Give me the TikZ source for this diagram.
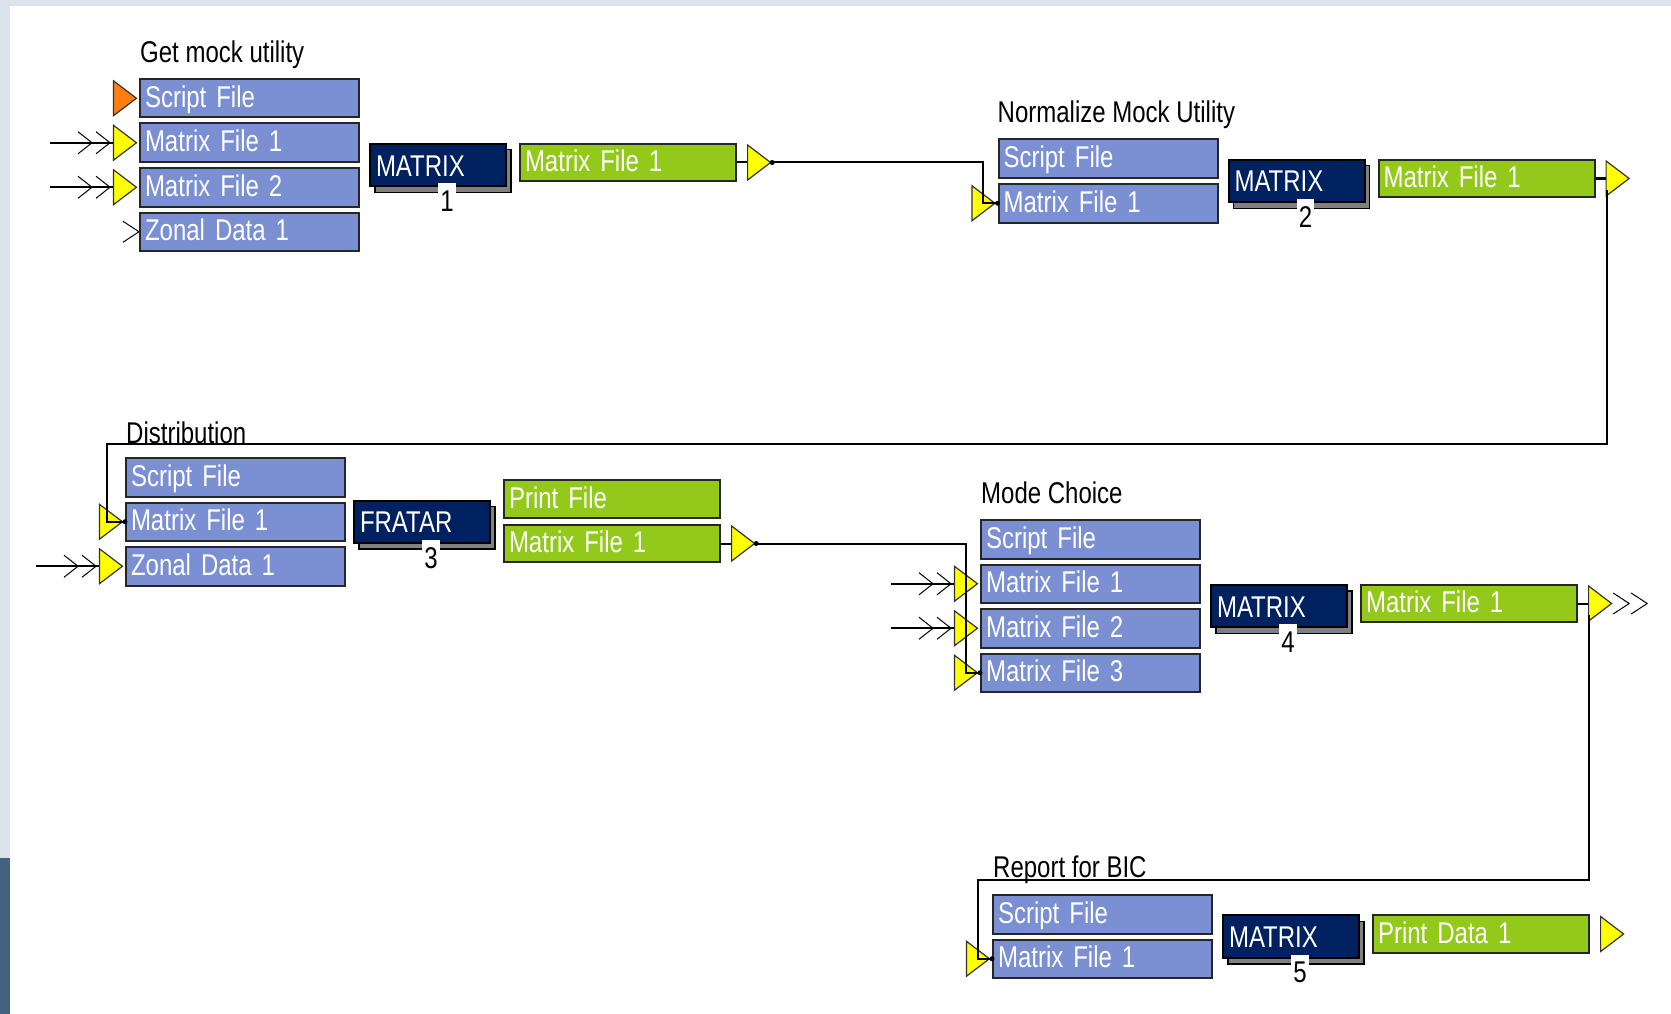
\documentclass[tikz,border=0pt]{standalone}
\usepackage{fontspec}
\setmainfont{Liberation Sans}[FakeStretch=0.8]
\usepackage{tikz}
\usetikzlibrary{positioning,calc,shapes.geometric,shadows,arrows.meta,decorations.markings}
\definecolor{inblue}{RGB}{123,143,211}
\definecolor{outgreen}{RGB}{147,201,27}
\definecolor{prognavy}{RGB}{0,33,96}
\definecolor{shadowgray}{RGB}{128,128,128}
\definecolor{portyellow}{RGB}{255,255,0}
\definecolor{portorange}{RGB}{255,128,16}
\definecolor{winframe}{RGB}{220,227,236}
\definecolor{deskphoto}{RGB}{68,98,128}
\tikzset{
	every node/.style={font=\fontsize{30}{34}\selectfont},
	file/.style={draw=black!85,line width=2pt,text=white,anchor=north west,
		align=left,inner xsep=5pt,inner ysep=0pt,text height=22pt,text depth=4pt},
	infile/.style={file,fill=inblue,text width=209pt,minimum height=38.5pt},
	outfile/.style={file,fill=outgreen,text width=206pt,minimum height=37.5pt},
	prog/.style={draw=black,line width=2pt,fill=prognavy,text=white,align=left,
		text width=124pt,inner xsep=6pt,inner ysep=0pt,minimum height=42.5pt,
		text height=22pt,text depth=0pt,
		general shadow={fill=shadowgray,draw=black,line width=1.5pt,
			shadow xshift=5pt,shadow yshift=-6pt}},
	prognum/.style={fill=white,inner xsep=2pt,inner ysep=0pt,
		text height=28pt,text depth=0pt,anchor=north},
	grouptitle/.style={anchor=base west,inner sep=0pt},
	port/.style={isosceles triangle,isosceles triangle stretches,shape border rotate=0,
		minimum width=35pt,minimum height=23pt,inner sep=0pt,
		draw=black!80,line width=1.2pt,fill=portyellow},
	wire/.style={line width=2pt},
	chev/.style={line width=1pt},
	dblin/.style={wire,postaction={decorate},decoration={markings,
		mark=at position -20pt with {\arrow{Straight Barb[length=14pt,width=22pt,line width=1pt]}},
		mark=at position -2pt with {\arrow{Straight Barb[length=14pt,width=22pt,line width=1pt]}}}},
	chevron/.pic={\draw[chev] (0,-10.5) -- (16,0) -- (0,10.5);}
}

\begin{document}
\begin{tikzpicture}[x=1pt,y=-1pt]
	\useasboundingbox (0,0) rectangle (1671,1014);
	\fill[winframe] (0,0) rectangle (1671,1014);
	\fill[white] (10,6) rectangle (1671,1014);
	\fill[deskphoto] (0,858) rectangle (10,1014);
	% Get mock utility
	\node[infile] (gmu-in1) at (139,78) {Script File};
	\node[infile,below=4pt of gmu-in1] (gmu-in2) {Matrix File 1};
	\node[infile,below=4pt of gmu-in2] (gmu-in3) {Matrix File 2};
	\node[infile,below=4pt of gmu-in3] (gmu-in4) {Zonal Data 1};
	\node[grouptitle] (gmu-title) at ([xshift=1pt,yshift=15.5pt]gmu-in1.north west) {Get mock utility};
	\node[prog,anchor=west] (gmu-prog) at ($(gmu-in1.east)!.5!(gmu-in4.east)+(9,0)$) {MATRIX};
	\node[prognum] (gmu-num) at ([xshift=9pt,yshift=4pt]gmu-prog.south) {1};
	\node[outfile,right=12pt of gmu-prog.north east,anchor=north west] (gmu-out1) {Matrix File 1};
	\node[port,fill=portorange,left=1pt of gmu-in1] (gmu-in1-port) {};
	\node[port,left=1pt of gmu-in2] (gmu-in2-port) {};
	\node[port,left=1pt of gmu-in3] (gmu-in3-port) {};
	\node[port,right=10pt of gmu-out1] (gmu-out1-port) {};
	\pic at ([xshift=-16pt]gmu-in4.west) {chevron};
	% Normalize Mock Utility
	\node[infile] (nmu-in1) at (997.5,138.5) {Script File};
	\node[infile,below=4pt of nmu-in1] (nmu-in2) {Matrix File 1};
	\node[grouptitle] (nmu-title) at ([yshift=16pt]nmu-in1.north west) {Normalize Mock Utility};
	\node[prog,anchor=west] (nmu-prog) at ($(nmu-in1.east)!.5!(nmu-in2.east)+(9,0)$) {MATRIX};
	\node[prognum] (nmu-num) at ([xshift=9pt,yshift=4pt]nmu-prog.south) {2};
	\node[outfile,right=12pt of nmu-prog.north east,anchor=north west] (nmu-out1) {Matrix File 1};
	\node[port,left=1pt of nmu-in2] (nmu-in2-port) {};
	\node[port,right=10pt of nmu-out1] (nmu-out1-port) {};
	% Distribution
	\node[infile] (dst-in1) at (125,457) {Script File};
	\node[infile,below=4pt of dst-in1] (dst-in2) {Matrix File 1};
	\node[infile,below=4pt of dst-in2] (dst-in3) {Zonal Data 1};
	\node[grouptitle] (dst-title) at ([xshift=1pt,yshift=14pt]dst-in1.north west) {Distribution};
	\node[prog,anchor=west] (dst-prog) at ($(dst-in1.east)!.5!(dst-in3.east)+(7,0)$) {FRATAR};
	\node[prognum] (dst-num) at ([xshift=9pt,yshift=4pt]dst-prog.south) {3};
	\node[outfile,above right=3pt and 12pt of dst-prog.east] (dst-out1) {Print File};
	\node[outfile,below=5pt of dst-out1] (dst-out2) {Matrix File 1};
	\node[port,left=1pt of dst-in2] (dst-in2-port) {};
	\node[port,left=1pt of dst-in3] (dst-in3-port) {};
	\node[port,right=10pt of dst-out2] (dst-out2-port) {};
	% Mode Choice
	\node[infile] (mch-in1) at (980,519) {Script File};
	\node[infile,below=4pt of mch-in1] (mch-in2) {Matrix File 1};
	\node[infile,below=4pt of mch-in2] (mch-in3) {Matrix File 2};
	\node[infile,below=4pt of mch-in3] (mch-in4) {Matrix File 3};
	\node[grouptitle] (mch-title) at ([xshift=1pt,yshift=16pt]mch-in1.north west) {Mode Choice};
	\node[prog,anchor=west] (mch-prog) at ($(mch-in1.east)!.5!(mch-in4.east)+(9,0)$) {MATRIX};
	\node[prognum] (mch-num) at ([xshift=9pt,yshift=4pt]mch-prog.south) {4};
	\node[outfile,right=12pt of mch-prog.north east,anchor=north west] (mch-out1) {Matrix File 1};
	\node[port,left=1pt of mch-in2] (mch-in2-port) {};
	\node[port,left=1pt of mch-in3] (mch-in3-port) {};
	\node[port,left=1pt of mch-in4] (mch-in4-port) {};
	\node[port,right=10pt of mch-out1] (mch-out1-port) {};
	\pic at (mch-out1-port.apex) {chevron};
	\pic at ([xshift=18pt]mch-out1-port.apex) {chevron};
	% Report for BIC
	\node[infile] (rep-in1) at (992,894) {Script File};
	\node[infile,below=4pt of rep-in1] (rep-in2) {Matrix File 1};
	\node[grouptitle] (rep-title) at ([xshift=1pt,yshift=17pt]rep-in1.north west) {Report for BIC};
	\node[prog,anchor=west] (rep-prog) at ($(rep-in1.east)!.5!(rep-in2.east)+(9,0)$) {MATRIX};
	\node[prognum] (rep-num) at ([xshift=9pt,yshift=4pt]rep-prog.south) {5};
	\node[outfile,right=12pt of rep-prog.north east,anchor=north west] (rep-out1) {Print Data 1};
	\node[port,left=1pt of rep-in2] (rep-in2-port) {};
	\node[port,right=10pt of rep-out1] (rep-out1-port) {};

	\coordinate (dst-bend) at (107,444);
	\coordinate (rep-bend) at (978,880);
	\draw[wire] (gmu-out1) -- (gmu-out1-port);
	\draw[wire] (nmu-out1) -- (nmu-out1-port);
	\draw[wire] (dst-out2) -- (dst-out2-port);
	\draw[wire] (mch-out1) -- (mch-out1-port);
	\draw[wire] (gmu-out1-port.apex) -| ([xshift=-15pt]nmu-in2.west) -- (nmu-in2.west);
	\draw[wire] ([xshift=-8pt]nmu-out1-port.south) |- (dst-bend) |- (dst-in2.west);
	\draw[wire] (dst-out2-port.apex) -| ([xshift=-14pt]mch-in4.west) -- (mch-in4.west);
	\draw[wire] ([xshift=-8pt]mch-out1-port.south) |- (rep-bend) |- (rep-in2.west);
	\foreach \j in {gmu-out1-port.apex,dst-out2-port.apex,nmu-in2.west,dst-in2.west,mch-in4.west,rep-in2.west}
		\fill (\j) circle (2.5pt);
	\foreach \p in {gmu-in2,gmu-in3,dst-in3,mch-in2,mch-in3}{
		\coordinate[left=63pt of \p-port] (\p-src);
		\draw[dblin] (\p-src) -- (\p-port.west);
	}
\end{tikzpicture}
\end{document}
